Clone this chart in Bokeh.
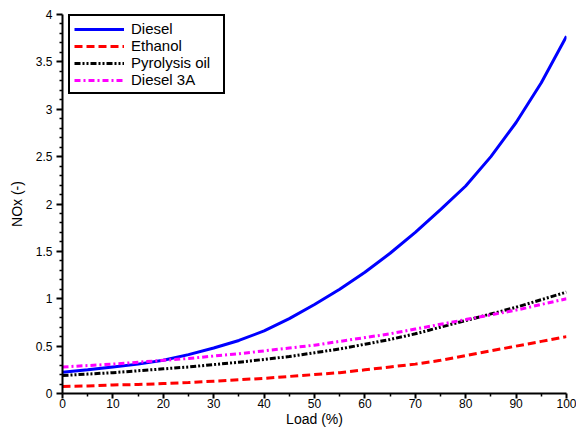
from bokeh.plotting import figure
from bokeh.models import FixedTicker, Legend, LegendItem, Range1d
from bokeh.embed import file_html
from bokeh.resources import INLINE

load = [0, 5, 10, 15, 20, 25, 30, 35, 40, 45, 50, 55, 60, 65, 70, 75, 80, 85, 90, 95, 100]
diesel = [0.225, 0.25, 0.28, 0.31, 0.35, 0.41, 0.48, 0.56, 0.66, 0.79, 0.94, 1.10, 1.28, 1.48, 1.70,
          1.94, 2.19, 2.50, 2.86, 3.28, 3.77]
ethanol = [0.075, 0.08, 0.09, 0.095, 0.105, 0.115, 0.13, 0.145, 0.16, 0.18, 0.20, 0.22, 0.25, 0.28,
           0.31, 0.35, 0.40, 0.45, 0.50, 0.55, 0.60]
pyrolysis = [0.19, 0.205, 0.22, 0.24, 0.26, 0.28, 0.305, 0.33, 0.36, 0.39, 0.43, 0.47, 0.52, 0.57,
             0.63, 0.70, 0.77, 0.84, 0.91, 0.99, 1.07]
diesel3a = [0.28, 0.295, 0.31, 0.33, 0.35, 0.37, 0.395, 0.42, 0.45, 0.48, 0.51, 0.55, 0.59, 0.63,
            0.68, 0.73, 0.78, 0.83, 0.88, 0.94, 1.00]

x_ticks = [0, 10, 20, 30, 40, 50, 60, 70, 80, 90, 100]
x_minor = [5, 15, 25, 35, 45, 55, 65, 75, 85, 95]
y_ticks = [0, 0.5, 1, 1.5, 2, 2.5, 3, 3.5, 4]
y_tick_labels = ["0", "0.5", "1", "1.5", "2", "2.5", "3", "3.5", "4"]
y_minor = [round(i * 0.1, 1) for i in range(41) if i % 5 != 0]

FONT = "Liberation Sans"

p = figure(width=576, height=434, output_backend="svg", toolbar_location=None,
           x_range=Range1d(0, 100), y_range=Range1d(0, 4),
           min_border_left=62, min_border_right=10, min_border_top=14, min_border_bottom=41)
p.outline_line_color = None
p.grid.visible = False
p.background_fill_color = "white"
p.border_fill_color = "white"

r1 = p.line(load, diesel, line_color="#0000FF", line_width=3)
r2 = p.line(load, ethanol, line_color="#FF0000", line_width=3, line_dash="8 4")
r3 = p.line(load, pyrolysis, line_color="black", line_width=3, line_dash="6 2 2 2 2 2")
r4 = p.line(load, diesel3a, line_color="#FF00FF", line_width=3, line_dash="6 3 2 3")

p.xaxis.ticker = FixedTicker(ticks=x_ticks, minor_ticks=x_minor)
p.yaxis.ticker = FixedTicker(ticks=y_ticks, minor_ticks=y_minor)
p.yaxis.major_label_overrides = {t: l for t, l in zip(y_ticks, y_tick_labels)}
p.xaxis.major_label_overrides = {t: str(t) for t in x_ticks}

for ax in (p.xaxis, p.yaxis):
    ax.axis_line_width = 2
    ax.axis_line_color = "black"
    ax.major_tick_line_width = 2
    ax.minor_tick_line_width = 1.5
    ax.major_tick_out = 6
    ax.major_tick_in = 0
    ax.minor_tick_out = 3
    ax.minor_tick_in = 0
    ax.major_label_text_font = FONT
    ax.major_label_text_font_size = "12px"
    ax.major_label_text_color = "black"
    ax.axis_label_text_font = FONT
    ax.axis_label_text_font_size = "14px"
    ax.axis_label_text_font_style = "normal"
    ax.axis_label_text_color = "black"

p.xaxis.major_tick_out = 5
p.xaxis.axis_label = "Load (%)"
p.yaxis.axis_label = "NOx (-)"
p.xaxis.major_label_standoff = 0
p.yaxis.major_label_standoff = 4
p.xaxis.axis_label_standoff = 0
p.yaxis.axis_label_standoff = 8

legend = Legend(items=[
    LegendItem(label="Diesel", renderers=[r1]),
    LegendItem(label="Ethanol", renderers=[r2]),
    LegendItem(label="Pyrolysis oil", renderers=[r3]),
    LegendItem(label="Diesel 3A", renderers=[r4]),
], location=(6, 299))
legend.border_line_color = "black"
legend.border_line_alpha = 1.0
legend.border_line_width = 2
legend.background_fill_alpha = 1
legend.padding = 4
legend.spacing = 0
legend.margin = 0
legend.glyph_width = 50
legend.glyph_height = 14
legend.label_height = 14
legend.label_width = 88
legend.label_standoff = 7
legend.label_text_font = FONT
legend.label_text_font_size = "15px"
legend.label_text_line_height = 1.0
legend.label_text_color = "black"
p.add_layout(legend)

open("out.html", "w").write(file_html(p, INLINE))
